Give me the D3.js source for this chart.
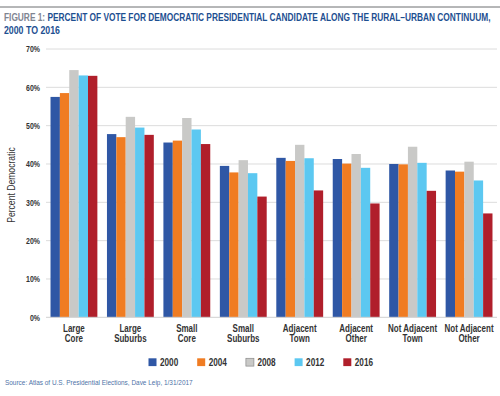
<!DOCTYPE html>
<html>
<head>
<meta charset="utf-8">
<script src="https://cdn.jsdelivr.net/npm/d3@7"></script>
<style>
  body { margin: 0; background: #fff; }
  svg { display: block; font-family: "Liberation Sans", Arial, sans-serif; }
</style>
</head>
<body>
<div id="chart"></div>
<script>
// data
const categories = [
  ["Large", "Core"], ["Large", "Suburbs"], ["Small", "Core"], ["Small", "Suburbs"],
  ["Adjacent", "Town"], ["Adjacent", "Other"], ["Not Adjacent", "Town"], ["Not Adjacent", "Other"]
]
const years = ["2000", "2004", "2008", "2012", "2016"]
const v2000 = [57.5, 47.8, 45.6, 39.5, 41.6, 41.3, 40.0, 38.3]
const v2004 = [58.5, 47.0, 46.1, 37.8, 40.8, 40.1, 39.9, 38.0]
const v2008 = [64.5, 52.3, 52.0, 41.0, 45.0, 42.6, 44.5, 40.6]
const v2012 = [63.1, 49.5, 49.0, 37.6, 41.5, 39.0, 40.3, 35.7]
const v2016 = [63.0, 47.6, 45.2, 31.5, 33.1, 29.7, 33.0, 27.1]
const yTicks = [0, 10, 20, 30, 40, 50, 60, 70]
const colors = ["#2f57a5", "#f07c22", "#c9c9c7", "#5cc8f1", "#b01f2b"]

const series = [v2000, v2004, v2008, v2012, v2016]
const width = 500, height = 396

const svg = d3.select("#chart").append("svg")
  .attr("width", width)
  .attr("height", height)

// no narrow font installed, so squeeze horizontally around an anchor x
function squeeze(sel, k, ax) {
  sel.attr("transform", "translate(" + ax + ",0) scale(" + k + ",1) translate(" + (-ax) + ",0)")
}

// top rule + title
svg.append("line")
  .attr("x1", 0).attr("x2", width).attr("y1", 7).attr("y2", 7)
  .attr("stroke", "#6d6e71").attr("stroke-width", 1)

const title = svg.append("text")
  .attr("x", 4).attr("y", 20.8)
  .attr("font-size", 11.5).attr("font-weight", "bold")
title.append("tspan").attr("fill", "#7f8591").text("FIGURE 1: ")
title.append("tspan").attr("fill", "#1d4f91")
  .text("PERCENT OF VOTE FOR DEMOCRATIC PRESIDENTIAL CANDIDATE ALONG THE RURAL\u2013URBAN CONTINUUM,")
squeeze(title, 487 / title.node().getComputedTextLength(), 4)

const title2 = svg.append("text")
  .attr("x", 4).attr("y", 33.6)
  .attr("font-size", 11.5).attr("font-weight", "bold").attr("fill", "#1d4f91")
  .text("2000 TO 2016")
squeeze(title2, 56 / title2.node().getComputedTextLength(), 4)

// scales
const x0 = d3.scaleBand()
  .domain(d3.range(categories.length))
  .range([46, 497])
  .paddingInner(0.17)
  .paddingOuter(0.08)

const x1 = d3.scaleBand()
  .domain(years)
  .range([0, x0.bandwidth()])

const y = d3.scaleLinear()
  .domain([0, 70])
  .range([317.3, 49])

// gridlines
svg.append("g").selectAll("line")
  .data(yTicks.filter(d => d > 0))
  .join("line")
  .attr("x1", 46).attr("x2", 497)
  .attr("y1", d => y(d)).attr("y2", d => y(d))
  .attr("stroke", "#dcdcdc").attr("stroke-width", 1)

// y axis
const yAxis = svg.append("g")
  .attr("transform", "translate(46,0)")
  .call(d3.axisLeft(y).tickValues(yTicks).tickFormat(d => d + "%").tickSize(0).tickPadding(6))
yAxis.select(".domain").remove()
yAxis.selectAll("text")
  .attr("font-size", 8.5).attr("font-weight", "bold").attr("fill", "#333")
  .style("font-family", "inherit")
  .call(squeeze, 0.82, -6)

svg.append("text")
  .attr("transform", "translate(14.5," + y(34.5) + ") rotate(-90) scale(0.82,1)")
  .attr("text-anchor", "middle")
  .attr("font-size", 10.5).attr("fill", "#333")
  .text("Percent Democratic")

// bars
const groups = svg.append("g").selectAll("g")
  .data(categories.map((c, i) => i))
  .join("g")
  .attr("transform", i => "translate(" + x0(i) + ",0)")

groups.selectAll("rect")
  .data(i => years.map((yr, k) => ({ yr: yr, k: k, v: series[k][i] })))
  .join("rect")
  .attr("x", d => x1(d.yr))
  .attr("y", d => y(d.v))
  .attr("width", x1.bandwidth())
  .attr("height", d => y(0) - y(d.v))
  .attr("fill", d => colors[d.k])

// baseline
svg.append("line")
  .attr("x1", 46).attr("x2", 497).attr("y1", y(0)).attr("y2", y(0))
  .attr("stroke", "#d0d0d0").attr("stroke-width", 1)

// category labels
const catLabels = svg.append("g").selectAll("text")
  .data(categories)
  .join("text")
  .attr("y", 331.7)
  .attr("text-anchor", "middle")
  .attr("font-size", 10).attr("font-weight", "bold").attr("fill", "#333")
catLabels.append("tspan")
  .attr("x", (d, i) => x0(i) + x0.bandwidth() / 2)
  .text(d => d[0])
catLabels.append("tspan")
  .attr("x", (d, i) => x0(i) + x0.bandwidth() / 2)
  .attr("dy", 10.3)
  .text(d => d[1])
catLabels.each(function (d, i) {
  squeeze(d3.select(this), 0.8, x0(i) + x0.bandwidth() / 2)
})

// legend
const legend = svg.append("g").selectAll("g")
  .data(years)
  .join("g")
  .attr("transform", (d, i) => "translate(" + (148.5 + i * 48.7) + ",358.3)")
legend.append("rect")
  .attr("width", 8).attr("height", 7.8)
  .attr("fill", (d, i) => colors[i])
  .attr("stroke", (d, i) => i === 2 ? "#8a8a8a" : "none")
  .attr("stroke-width", 0.7)
legend.append("text")
  .attr("x", 11.5).attr("y", 8)
  .attr("font-size", 10.5).attr("font-weight", "bold").attr("fill", "#333")
  .text(d => d)
  .call(squeeze, 0.78, 11.5)

// source
const source = svg.append("text")
  .attr("x", 5).attr("y", 385)
  .attr("font-size", 7.5).attr("fill", "#4e73a8")
  .text("Source: Atlas of U.S. Presidential Elections, Dave Leip, 1/31/2017")
squeeze(source, 188 / source.node().getComputedTextLength(), 5)
</script>
</body>
</html>
